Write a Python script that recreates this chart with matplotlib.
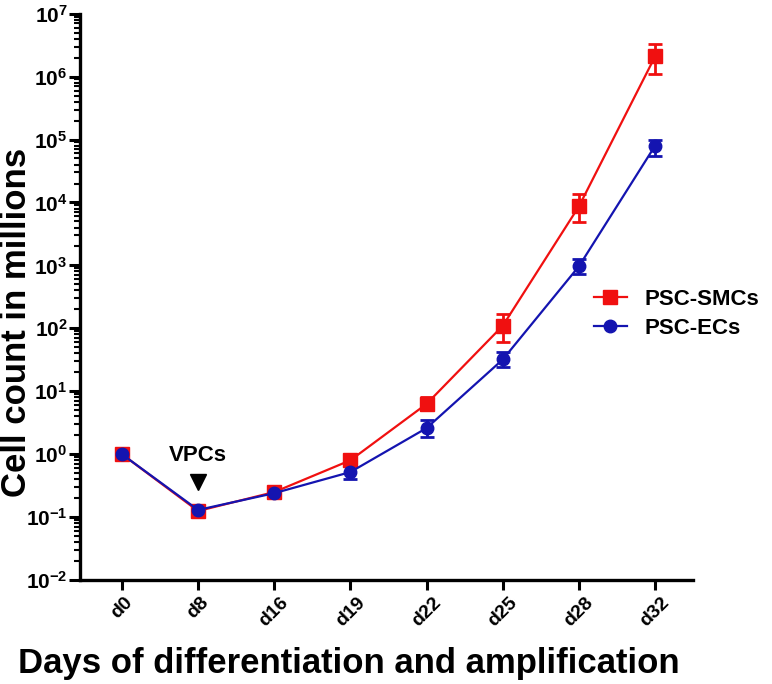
import matplotlib.pyplot as plt
import matplotlib.ticker as mticker
from matplotlib.lines import Line2D
import numpy as np

plt.rcParams['font.family'] = ['Liberation Sans', 'DejaVu Sans']
plt.rcParams['font.weight'] = 'bold'
plt.rcParams['mathtext.fontset'] = 'custom'
plt.rcParams['mathtext.bf'] = 'Liberation Sans:bold'
plt.rcParams['mathtext.rm'] = 'Liberation Sans:bold'

# data
days = ['d0', 'd8', 'd16', 'd19', 'd22', 'd25', 'd28', 'd32']
smc = [1.0, 0.125, 0.25, 0.8, 6.3, 110, 8700, 2.1e6]
smc_lo = [0.9, 0.10, 0.21, 0.68, 5.0, 60, 4900, 1.1e6]
smc_hi = [1.1, 0.15, 0.30, 0.95, 8.0, 170, 13500, 3.3e6]
ec = [1.0, 0.13, 0.24, 0.52, 2.6, 32, 970, 80000]
ec_lo = [0.9, 0.11, 0.20, 0.40, 1.9, 24, 730, 55000]
ec_hi = [1.1, 0.15, 0.29, 0.66, 3.5, 42, 1250, 100000]

x = np.arange(len(days))
red = '#f01010'
blue = '#1414b0'

fig = plt.figure(figsize=(7.72, 6.84), dpi=100)
ax = fig.add_axes([0.1036, 0.152, 0.7944, 0.828])

smc_err = [np.array(smc) - np.array(smc_lo), np.array(smc_hi) - np.array(smc)]
ec_err = [np.array(ec) - np.array(ec_lo), np.array(ec_hi) - np.array(ec)]

ax.errorbar(x, smc, yerr=smc_err, color=red, marker='s', markersize=10, lw=1.6,
            capsize=5, capthick=2, elinewidth=2)
ax.errorbar(x, ec, yerr=ec_err, color=blue, marker='o', markersize=9, lw=1.6,
            capsize=5, capthick=2, elinewidth=2)

ax.set_yscale('log')
ax.set_ylim(1e-2, 1e7)
ax.set_xlim(-0.55, 7.5)
ax.yaxis.set_major_locator(mticker.LogLocator(base=10, numticks=20))
ax.yaxis.set_minor_locator(mticker.LogLocator(base=10, subs=np.arange(2, 10), numticks=20))
ax.yaxis.set_minor_formatter(mticker.NullFormatter())
ax.yaxis.set_major_formatter(mticker.FuncFormatter(lambda v, p: r'$\mathbf{10^{%d}}$' % round(np.log10(v))))

ax.set_xticks(x)
ax.set_xticklabels(days, rotation=45, fontsize=14, fontweight='bold')
ax.tick_params(axis='y', which='major', length=8, width=2.2, labelsize=15, pad=1)
ax.tick_params(axis='y', which='minor', length=4, width=1.5)
ax.tick_params(axis='x', which='major', length=7, width=2.2, pad=3)

for s in ['top', 'right']:
    ax.spines[s].set_visible(False)
for s in ['left', 'bottom']:
    ax.spines[s].set_linewidth(2.4)

ax.set_ylabel('Cell count in millions', fontsize=25, fontweight='bold')
ax.yaxis.set_label_coords(-0.077, 0.455)
ax.set_xlabel('Days of differentiation and amplification', fontsize=25, fontweight='bold')
ax.xaxis.set_label_coords(0.439, -0.118)

# VPCs marker
ax.text(1, 0.97, 'VPCs', ha='center', va='center', fontsize=16, fontweight='bold')
ax.plot([1], [0.36], marker='v', color='black', markersize=12)

handles = [Line2D([], [], color=red, marker='s', markersize=10, lw=1.6),
           Line2D([], [], color=blue, marker='o', markersize=9, lw=1.6)]
ax.legend(handles, ['PSC-SMCs', 'PSC-ECs'], loc='center left', bbox_to_anchor=(0.805, 0.47),
          frameon=False, prop={'weight': 'bold', 'size': 16}, handlelength=1.5,
          handletextpad=0.8, labelspacing=0.35)

fig.savefig('out.png', dpi=100)
